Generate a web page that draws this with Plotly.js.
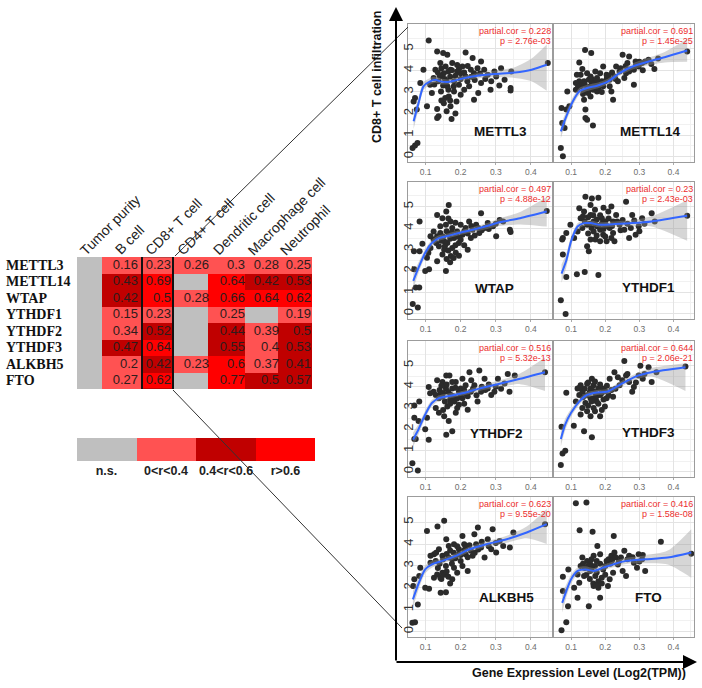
<!DOCTYPE html>
<html><head><meta charset="utf-8">
<script src="https://cdn.plot.ly/plotly-3.0.1.min.js"></script>
<style>html,body{margin:0;padding:0;background:#fff}#chart{width:702px;height:688px}</style>
</head><body><div id="chart"></div>
<script>
// ---------------- DATA ----------------
const genes = ['METTL3','METTL14','WTAP','YTHDF1','YTHDF2','YTHDF3','ALKBH5','FTO'];
const cellTypes = ['Tumor purity','B cell','CD8+ T cell','CD4+ T cell','Dendritic cell','Macrophage cell','Neutrophil'];
const corValues = [
 [null,0.16,0.23,0.26,0.3,0.28,0.25],
 [null,0.43,0.69,null,0.64,0.42,0.53],
 [null,0.42,0.5,0.28,0.66,0.64,0.62],
 [null,0.15,0.23,null,0.25,null,0.19],
 [null,0.34,0.52,null,0.44,0.39,0.5],
 [null,0.47,0.64,null,0.55,0.4,0.53],
 [null,0.2,0.42,0.23,0.6,0.37,0.41],
 [null,0.27,0.62,null,0.77,0.5,0.57]
];
// colour class as drawn: 0 n.s., 1 0<r<0.4, 2 0.4<r<0.6, 3 r>0.6
const corClass = [
 [0,1,1,1,1,1,1],
 [0,2,3,0,3,2,2],
 [0,2,3,1,3,3,3],
 [0,1,1,0,1,0,1],
 [0,1,2,0,2,1,2],
 [0,2,3,0,2,1,2],
 [0,1,2,1,3,1,2],
 [0,1,3,0,3,2,2]
];
const classLabels = ['n.s.','0<r<0.4','0.4<r<0.6','r>0.6'];
const classValues = [0,1,2,3];
const partialCor = ['0.228','0.691','0.497','0.23','0.516','0.644','0.623','0.416'];
const pValues = ['2.76e-03','1.45e-25','4.88e-12','2.43e-03','5.32e-13','2.06e-21','9.55e-20','1.58e-08'];
const xTicks = [0.1,0.2,0.3,0.4];
const yTicks = [0,1,2,3,4,5];

const mettl3Pts = [[0.109,5.39],[0.133,4.88],[0.150,4.80],[0.162,4.72],[0.214,4.83],[0.234,4.57],[0.258,4.41],[0.325,3.56],[0.342,3.18],[0.342,3.07],[0.448,4.34],[0.296,3.95],[0.301,3.72],[0.277,3.80],[0.267,4.03],[0.238,2.64],[0.224,3.26],[0.210,3.10],[0.195,3.33],[0.181,3.49],[0.094,4.03],[0.085,3.41],[0.070,2.72],[0.066,2.56],[0.075,2.18],[0.104,2.33],[0.133,2.21],[0.137,1.87],[0.133,1.79],[0.174,1.74],[0.152,2.48],[0.156,2.72],[0.166,2.79],[0.160,2.10],[0.118,2.95],[0.113,3.33],[0.123,3.64],[0.128,4.03],[0.142,4.34],[0.157,4.18],[0.171,4.03],[0.176,4.34],[0.190,3.95],[0.205,4.18],[0.229,4.03],[0.238,3.87],[0.248,4.10],[0.147,3.72],[0.137,3.49],[0.162,3.26],[0.181,3.02],[0.144,3.02],[0.171,2.33],[0.188,2.56],[0.200,2.87],[0.219,3.49],[0.258,3.41],[0.287,3.49],[0.315,4.10],[0.344,3.95],[0.063,0.40],[0.070,0.51],[0.077,0.63],[0.200,3.87],[0.214,3.72],[0.152,3.87],[0.135,3.9],[0.145,4.1],[0.155,3.6],[0.165,3.95],[0.17,3.7],[0.175,4.0],[0.185,3.75],[0.195,4.05],[0.2,3.6],[0.16,3.5],[0.15,3.3],[0.165,3.1],[0.18,3.25],[0.14,3.75],[0.125,3.35],[0.19,4.25],[0.21,3.9],[0.22,4.2],[0.23,3.7],[0.17,2.6],[0.185,2.0],[0.145,2.6],[0.24,3.55],[0.255,3.85],[0.27,3.6],[0.31,3.3],[0.285,3.1],[0.25,2.95]];
const mettl3FitX = [0.066,0.080,0.094,0.113,0.128,0.142,0.162,0.181,0.210,0.248,0.296,0.354,0.402,0.445];
const mettl3FitY = [1.64,2.48,3.26,3.49,3.56,3.49,3.46,3.52,3.64,3.75,3.83,3.90,4.03,4.26];
const mettl3Hi = [2.0,2.75,3.45,3.65,3.70,3.62,3.58,3.63,3.75,3.87,3.98,4.15,4.55,5.2];
const mettl3Lo = [1.28,2.2,3.07,3.33,3.42,3.36,3.34,3.41,3.53,3.63,3.68,3.65,3.5,3.05];

const mettl14Pts = [[0.070,0.40],[0.076,0.02],[0.141,4.95],[0.159,4.80],[0.124,4.37],[0.133,4.06],[0.128,3.80],[0.147,3.87],[0.152,3.56],[0.161,3.41],[0.176,3.64],[0.185,3.87],[0.190,3.49],[0.204,3.80],[0.213,3.56],[0.227,3.72],[0.242,3.95],[0.251,4.72],[0.270,4.64],[0.265,4.34],[0.284,4.03],[0.289,4.41],[0.308,4.34],[0.327,4.49],[0.344,4.06],[0.284,3.33],[0.223,2.64],[0.218,3.02],[0.089,3.02],[0.114,3.10],[0.072,2.25],[0.086,2.18],[0.095,2.33],[0.081,1.33],[0.074,1.56],[0.142,1.79],[0.147,1.71],[0.164,1.44],[0.142,2.18],[0.138,2.64],[0.157,2.79],[0.176,3.02],[0.138,3.02],[0.128,3.26],[0.147,3.18],[0.166,3.26],[0.180,3.18],[0.194,3.26],[0.138,3.49],[0.124,3.49],[0.157,3.72],[0.171,3.95],[0.194,4.18],[0.232,4.18],[0.261,3.87],[0.298,4.18],[0.317,4.41],[0.440,4.88],[0.114,3.41],[0.117,3.80],[0.213,3.26],[0.237,3.49],[0.256,3.64],[0.13,3.3],[0.14,3.35],[0.15,3.05],[0.155,3.25],[0.16,3.6],[0.17,3.4],[0.165,3.1],[0.18,3.45],[0.185,3.3],[0.2,3.5],[0.205,3.65],[0.22,3.9],[0.23,3.6],[0.245,4.1],[0.26,4.2],[0.275,4.05],[0.29,4.25],[0.3,4.4],[0.31,4.0],[0.15,2.95],[0.135,2.9],[0.12,3.2],[0.19,3.0],[0.175,3.55],[0.27,3.95],[0.335,4.3],[0.355,4.55],[0.21,3.75]];
const mettl14FitX = [0.070,0.086,0.105,0.124,0.147,0.176,0.209,0.242,0.280,0.327,0.374,0.440];
const mettl14FitY = [1.17,1.87,2.56,3.02,3.18,3.29,3.49,3.87,4.18,4.41,4.61,4.92];
const mettl14Hi = [1.5,2.1,2.75,3.18,3.32,3.42,3.62,4.0,4.32,4.58,4.85,5.45];
const mettl14Lo = [0.85,1.64,2.37,2.86,3.04,3.16,3.36,3.74,4.04,4.24,4.37,4.4];

const wtapPts = [[0.0635,0.45],[0.078,0.29],[0.072,1.22],[0.082,1.22],[0.068,2.07],[0.067,2.92],[0.083,2.92],[0.083,4.31],[0.091,3.26],[0.099,1.99],[0.110,2.07],[0.104,2.61],[0.108,2.84],[0.114,3.07],[0.123,3.46],[0.133,3.61],[0.142,3.77],[0.138,3.15],[0.133,2.45],[0.148,2.76],[0.153,2.99],[0.158,1.99],[0.166,5.08],[0.159,4.77],[0.133,4.61],[0.148,4.46],[0.158,4.15],[0.171,4.31],[0.176,4.0],[0.166,3.69],[0.181,3.53],[0.162,3.30],[0.176,3.07],[0.186,2.84],[0.172,2.69],[0.195,3.30],[0.205,3.69],[0.214,4.0],[0.224,4.31],[0.234,3.92],[0.229,3.53],[0.220,2.99],[0.244,4.15],[0.253,3.77],[0.258,4.69],[0.277,4.23],[0.268,4.0],[0.292,4.08],[0.301,3.61],[0.311,4.38],[0.321,4.31],[0.340,3.92],[0.342,3.81],[0.445,4.80],[0.123,3.84],[0.114,3.61],[0.190,3.84],[0.200,4.15],[0.153,3.38],[0.142,4.08],[0.15,3.6],[0.16,3.85],[0.17,3.5],[0.175,3.8],[0.185,3.2],[0.19,3.6],[0.2,3.45],[0.21,3.85],[0.155,3.15],[0.165,2.95],[0.18,2.6],[0.17,2.4],[0.145,3.4],[0.13,3.3],[0.22,3.75],[0.24,3.65],[0.25,4.0],[0.26,3.9],[0.28,3.95],[0.3,4.2],[0.185,4.25],[0.165,4.45],[0.21,3.2],[0.195,2.7],[0.23,4.1],[0.16,2.55]];
const wtapFitX = [0.065,0.080,0.099,0.118,0.138,0.166,0.195,0.234,0.272,0.311,0.369,0.445];
const wtapFitY = [1.53,2.15,2.84,3.30,3.53,3.64,3.77,3.92,4.08,4.27,4.46,4.77];
const wtapHi = [1.9,2.4,3.02,3.45,3.66,3.76,3.88,4.04,4.22,4.45,4.75,5.45];
const wtapLo = [1.16,1.9,2.66,3.15,3.40,3.52,3.66,3.80,3.94,4.09,4.17,4.07];

const ythdf1Pts = [[0.070,0.63],[0.084,-0.02],[0.086,1.71],[0.076,2.76],[0.076,3.53],[0.074,3.46],[0.086,3.77],[0.098,4.15],[0.117,1.84],[0.140,1.94],[0.180,1.81],[0.109,3.53],[0.119,3.84],[0.128,4.46],[0.124,4.92],[0.142,5.46],[0.161,5.38],[0.180,5.42],[0.157,5.08],[0.138,4.77],[0.157,4.61],[0.166,4.31],[0.176,4.08],[0.185,3.92],[0.194,3.69],[0.204,3.38],[0.218,3.53],[0.227,3.38],[0.213,4.0],[0.223,4.31],[0.218,5.0],[0.209,4.77],[0.232,4.61],[0.242,4.15],[0.256,3.92],[0.261,5.23],[0.279,4.61],[0.289,3.69],[0.298,4.08],[0.270,3.53],[0.308,4.46],[0.336,4.69],[0.345,4.31],[0.440,4.57],[0.152,2.92],[0.147,3.15],[0.157,3.46],[0.171,3.46],[0.185,3.38],[0.166,3.84],[0.147,4.15],[0.133,4.0],[0.190,4.46],[0.223,3.77],[0.251,4.38],[0.14,4.3],[0.15,4.5],[0.155,4.2],[0.16,4.0],[0.165,4.6],[0.17,4.2],[0.175,4.4],[0.18,4.1],[0.185,4.6],[0.19,4.2],[0.195,3.95],[0.2,4.3],[0.205,4.1],[0.21,4.45],[0.22,4.1],[0.235,4.3],[0.245,3.9],[0.265,4.2],[0.275,4.0],[0.285,4.35],[0.3,3.85],[0.315,4.2],[0.15,3.75],[0.175,3.65],[0.2,3.6],[0.135,4.55],[0.17,4.85],[0.195,4.95]];
const ythdf1FitX = [0.072,0.086,0.100,0.119,0.138,0.157,0.185,0.223,0.279,0.336,0.440];
const ythdf1FitY = [1.87,2.48,3.38,4.07,4.23,4.23,4.15,4.18,4.23,4.31,4.57];
const ythdf1Hi = [2.3,2.8,3.6,4.22,4.36,4.35,4.27,4.31,4.38,4.55,5.3];
const ythdf1Lo = [1.44,2.16,3.16,3.92,4.10,4.11,4.03,4.05,4.08,4.07,3.4];

const ythdf2Pts = [[0.0625,0.40],[0.078,0.06],[0.068,1.54],[0.072,1.54],[0.109,1.50],[0.068,2.54],[0.082,3.30],[0.068,3.12],[0.080,2.39],[0.099,2.0],[0.104,2.54],[0.109,3.99],[0.113,3.69],[0.123,3.76],[0.133,4.30],[0.148,4.22],[0.159,4.53],[0.168,4.53],[0.158,3.91],[0.143,3.69],[0.138,3.46],[0.129,3.0],[0.138,2.77],[0.153,2.61],[0.159,1.74],[0.176,1.90],[0.166,2.39],[0.186,2.77],[0.182,3.30],[0.172,3.61],[0.195,3.76],[0.195,3.15],[0.205,3.46],[0.214,4.07],[0.220,2.92],[0.229,3.76],[0.239,4.07],[0.225,4.68],[0.253,4.76],[0.268,4.37],[0.277,3.91],[0.287,3.61],[0.296,3.76],[0.306,4.37],[0.334,4.60],[0.339,3.76],[0.354,4.53],[0.440,4.68],[0.248,3.30],[0.258,3.76],[0.186,4.22],[0.205,4.37],[0.148,3.53],[0.129,3.61],[0.176,3.91],[0.200,3.91],[0.214,3.69],[0.162,3.07],[0.176,4.22],[0.14,3.85],[0.15,3.7],[0.155,3.3],[0.165,3.75],[0.17,3.4],[0.18,3.55],[0.185,3.95],[0.19,3.45],[0.2,3.6],[0.21,3.85],[0.22,3.55],[0.235,3.9],[0.245,3.6],[0.26,4.0],[0.27,3.85],[0.28,4.1],[0.3,4.0],[0.315,3.9],[0.16,4.1],[0.145,4.05],[0.17,3.2],[0.19,3.0],[0.15,2.9],[0.21,3.2],[0.23,4.3],[0.325,4.15]];
const ythdf2FitX = [0.0645,0.080,0.099,0.118,0.138,0.166,0.205,0.253,0.311,0.369,0.440];
const ythdf2FitY = [1.51,2.0,2.69,3.23,3.46,3.56,3.69,3.91,4.14,4.37,4.68];
const ythdf2Hi = [1.85,2.25,2.87,3.38,3.59,3.68,3.80,4.03,4.30,4.62,5.37];
const ythdf2Lo = [1.17,1.75,2.51,3.08,3.33,3.44,3.58,3.79,3.98,4.12,3.8];

const ythdf3Pts = [[0.070,0.32],[0.075,0.86],[0.083,0.98],[0.072,2.11],[0.108,2.16],[0.086,3.72],[0.138,1.90],[0.161,1.62],[0.114,3.30],[0.124,3.61],[0.128,4.07],[0.147,4.14],[0.161,4.37],[0.166,4.07],[0.180,3.91],[0.171,3.69],[0.157,3.46],[0.142,3.23],[0.133,3.0],[0.147,2.84],[0.157,2.61],[0.166,3.0],[0.175,3.30],[0.185,2.61],[0.199,3.07],[0.204,3.46],[0.218,3.84],[0.227,4.68],[0.237,4.45],[0.242,4.07],[0.256,5.21],[0.261,4.53],[0.270,4.22],[0.279,3.76],[0.284,3.99],[0.298,4.53],[0.303,4.98],[0.310,4.37],[0.327,4.91],[0.336,4.22],[0.350,4.68],[0.435,4.95],[0.119,3.91],[0.133,3.76],[0.185,3.61],[0.223,3.53],[0.157,3.91],[0.194,3.91],[0.213,4.37],[0.166,3.46],[0.128,2.69],[0.14,3.9],[0.145,3.6],[0.15,4.2],[0.155,3.75],[0.16,3.3],[0.165,3.8],[0.17,4.25],[0.175,3.55],[0.18,3.2],[0.19,3.7],[0.195,3.4],[0.2,3.8],[0.21,3.6],[0.15,3.1],[0.135,3.5],[0.17,2.85],[0.19,2.9],[0.23,3.9],[0.25,4.3],[0.265,4.6],[0.29,4.2],[0.315,4.6],[0.125,3.95],[0.185,4.1],[0.205,4.05]];
const ythdf3FitX = [0.070,0.083,0.100,0.124,0.147,0.176,0.204,0.232,0.261,0.298,0.336,0.435];
const ythdf3FitY = [1.54,2.23,2.77,3.30,3.61,3.73,3.76,3.99,4.25,4.53,4.68,4.91];
const ythdf3Hi = [1.9,2.5,2.95,3.45,3.74,3.85,3.88,4.12,4.38,4.68,4.88,5.1];
const ythdf3Lo = [1.18,1.96,2.59,3.15,3.48,3.61,3.64,3.86,4.12,4.38,4.48,3.8];

const alkbh5Pts = [[0.0625,0.40],[0.070,0.43],[0.078,1.24],[0.065,2.08],[0.068,2.39],[0.082,2.54],[0.085,2.92],[0.104,4.60],[0.134,4.80],[0.153,5.06],[0.099,2.0],[0.110,1.96],[0.143,1.77],[0.158,1.80],[0.124,2.46],[0.133,2.61],[0.142,2.46],[0.114,3.15],[0.124,3.53],[0.138,3.76],[0.148,3.46],[0.159,4.22],[0.166,3.91],[0.176,3.30],[0.181,2.92],[0.190,2.69],[0.176,2.39],[0.200,3.23],[0.195,3.76],[0.210,3.99],[0.214,3.53],[0.220,2.77],[0.229,3.69],[0.239,4.45],[0.249,4.76],[0.244,3.99],[0.258,3.84],[0.268,3.38],[0.277,4.22],[0.287,3.76],[0.291,4.68],[0.301,3.61],[0.311,4.14],[0.321,3.91],[0.340,3.84],[0.350,4.53],[0.440,4.91],[0.166,3.38],[0.158,3.0],[0.195,3.53],[0.205,4.37],[0.129,3.23],[0.181,3.99],[0.214,3.84],[0.234,3.46],[0.148,2.69],[0.114,3.46],[0.14,3.1],[0.15,3.3],[0.155,2.6],[0.16,3.55],[0.165,2.5],[0.17,3.7],[0.175,3.1],[0.18,3.6],[0.185,3.35],[0.19,3.9],[0.2,3.5],[0.205,3.0],[0.21,3.7],[0.22,3.4],[0.225,3.95],[0.24,3.6],[0.25,3.75],[0.26,4.1],[0.135,2.9],[0.145,2.4],[0.16,2.75],[0.17,2.2],[0.13,3.6],[0.28,3.9],[0.3,4.05]];
const alkbh5FitX = [0.064,0.081,0.099,0.118,0.148,0.186,0.225,0.273,0.331,0.388,0.445];
const alkbh5FitY = [1.47,2.23,2.84,3.07,3.23,3.46,3.76,3.99,4.22,4.53,4.91];
const alkbh5Hi = [1.85,2.5,3.02,3.22,3.36,3.58,3.88,4.12,4.38,4.8,5.6];
const alkbh5Lo = [1.09,1.96,2.66,2.92,3.10,3.34,3.64,3.86,4.06,4.26,4.0];

const ftoPts = [[0.072,0.06],[0.086,0.43],[0.091,1.16],[0.076,1.85],[0.076,2.51],[0.092,2.84],[0.114,5.87],[0.145,5.90],[0.125,4.63],[0.163,4.56],[0.177,3.91],[0.225,4.37],[0.363,4.10],[0.452,3.56],[0.119,1.54],[0.152,1.16],[0.185,1.54],[0.166,2.08],[0.180,2.0],[0.208,2.08],[0.124,2.23],[0.138,2.54],[0.156,2.77],[0.171,2.54],[0.128,3.0],[0.147,3.23],[0.166,3.46],[0.185,3.53],[0.204,3.23],[0.218,3.46],[0.227,3.61],[0.237,3.07],[0.251,2.77],[0.261,2.54],[0.256,3.69],[0.270,3.46],[0.284,3.15],[0.298,3.53],[0.308,3.30],[0.317,2.77],[0.133,3.38],[0.157,3.07],[0.194,2.84],[0.223,2.69],[0.190,2.46],[0.119,2.61],[0.175,3.23],[0.246,3.38],[0.293,2.92],[0.109,2.0],[0.213,2.39],[0.14,2.9],[0.145,2.6],[0.15,3.0],[0.155,2.4],[0.16,2.85],[0.165,2.2],[0.17,3.0],[0.175,2.7],[0.18,2.3],[0.185,3.1],[0.19,2.2],[0.2,3.0],[0.21,3.3],[0.215,3.1],[0.22,3.25],[0.23,3.4],[0.24,3.2],[0.135,3.1],[0.16,3.3],[0.175,2.1],[0.2,2.6],[0.265,3.3],[0.28,3.4],[0.3,3.2],[0.31,3.5]];
const ftoFitX = [0.074,0.086,0.100,0.119,0.142,0.166,0.194,0.223,0.261,0.317,0.383,0.452];
const ftoFitY = [1.31,1.85,2.39,2.77,2.84,2.77,2.92,3.07,3.23,3.30,3.38,3.61];
const ftoHi = [1.75,2.15,2.6,2.93,2.98,2.9,3.05,3.2,3.37,3.48,3.7,4.68];
const ftoLo = [0.87,1.55,2.18,2.61,2.70,2.64,2.79,2.94,3.09,3.12,3.06,2.46];

// ---------------- LAYOUT CONSTANTS ----------------
const FONT = 'Liberation Sans, Arial, sans-serif';
const SERIF = 'Liberation Serif, Times New Roman, serif';
const W = 702, H = 688;
const px = v => v / W;
const py = v => 1 - v / H;
const classColors = ['#bfbfbf','#ff5252','#c00000','#ff0000'];
const colEdges = [77,102,142,173,208,245,278,312];
const textRightX = [null,138,171,209,245,279,311];
const headerX = [74,109,139,171,207,242,274];
const legendEdges = [77,136,196,256,315];
const panelXDom = [[408,552],[554,694]];
const panelYDom = [[24,162],[182,319],[341,477],[497,637]];
const labelPos = [[0.313,1.16],[0.332,1.16],[0.296,1.16],[0.327,1.2],[0.302,1.79],[0.327,1.83],[0.331,1.56],[0.327,1.56]];
const esc = s => s.replace(/</g,'&lt;').replace(/>/g,'&gt;');

const stepScale = [];
classColors.forEach((c,i)=>{ stepScale.push([i/4,c]); stepScale.push([(i+1)/4,c]); });

const traces = [];
// heatmap
traces.push({type:'heatmap', x: colEdges, y: genes.map((g,i)=>i), z: corClass,
  zmin:-0.5, zmax:3.5, colorscale: stepScale, showscale:false, hoverinfo:'skip', xaxis:'x', yaxis:'y'});
const tx=[],ty=[],tt=[];
corValues.forEach((row,i)=>row.forEach((v,j)=>{ if(v!==null){ tx.push(textRightX[j]); ty.push(i); tt.push(String(v)); } }));
traces.push({type:'scatter', mode:'text', x:tx, y:ty, text:tt, textposition:'middle left',
  textfont:{family:FONT,size:13,color:'#2e1c1c'}, hoverinfo:'skip', xaxis:'x', yaxis:'y', cliponaxis:false});
// legend bar
traces.push({type:'heatmap', x: legendEdges, y:[0], z:[classValues], zmin:-0.5, zmax:3.5,
  colorscale: stepScale, showscale:false, hoverinfo:'skip', xaxis:'x10', yaxis:'y10'});

const panels = [
 {pts:mettl3Pts, fx:mettl3FitX, fy:mettl3FitY, lo:mettl3Lo, hi:mettl3Hi},
 {pts:mettl14Pts, fx:mettl14FitX, fy:mettl14FitY, lo:mettl14Lo, hi:mettl14Hi},
 {pts:wtapPts, fx:wtapFitX, fy:wtapFitY, lo:wtapLo, hi:wtapHi},
 {pts:ythdf1Pts, fx:ythdf1FitX, fy:ythdf1FitY, lo:ythdf1Lo, hi:ythdf1Hi},
 {pts:ythdf2Pts, fx:ythdf2FitX, fy:ythdf2FitY, lo:ythdf2Lo, hi:ythdf2Hi},
 {pts:ythdf3Pts, fx:ythdf3FitX, fy:ythdf3FitY, lo:ythdf3Lo, hi:ythdf3Hi},
 {pts:alkbh5Pts, fx:alkbh5FitX, fy:alkbh5FitY, lo:alkbh5Lo, hi:alkbh5Hi},
 {pts:ftoPts, fx:ftoFitX, fy:ftoFitY, lo:ftoLo, hi:ftoHi}
];

const layout = {
  width: W, height: H, margin:{l:0,r:0,t:0,b:0}, paper_bgcolor:'#fff', plot_bgcolor:'#fff',
  showlegend:false, font:{family:FONT, color:'#222'},
  xaxis:{domain:[px(colEdges[0]),px(colEdges[colEdges.length-1])], range:[colEdges[0],colEdges[colEdges.length-1]], visible:false, fixedrange:true},
  yaxis:{domain:[py(389),py(257)], range:[7.5,-0.5], visible:false, fixedrange:true},
  xaxis10:{domain:[px(legendEdges[0]),px(legendEdges[4])], range:[legendEdges[0],legendEdges[4]], anchor:'y10',
    tickmode:'array', tickvals: classValues.map(i=>(legendEdges[i]+legendEdges[i+1])/2), ticktext: classLabels.map(esc),
    tickfont:{family:FONT,size:12.5,color:'#222',weight:'bold'}, showgrid:false, zeroline:false, showline:false, ticks:'', fixedrange:true},
  yaxis10:{domain:[py(461),py(438)], range:[-0.5,0.5], visible:false, anchor:'x10', fixedrange:true},
  annotations:[], shapes:[]
};

panels.forEach((p,i)=>{
  const n=i+2, xa='x'+n, ya='y'+n, r=Math.floor(i/2), c=i%2;
  traces.push({type:'scatter',mode:'markers',x:p.pts.map(d=>d[0]),y:p.pts.map(d=>d[1]),
    marker:{size:6,color:'#2b2b2b'},xaxis:xa,yaxis:ya,hoverinfo:'skip'});
  traces.push({type:'scatter',mode:'lines',x:p.fx,y:p.lo,line:{width:0,color:'rgba(0,0,0,0)',shape:'spline',smoothing:0.7},xaxis:xa,yaxis:ya,hoverinfo:'skip'});
  traces.push({type:'scatter',mode:'lines',x:p.fx,y:p.hi,fill:'tonexty',fillcolor:'rgba(153,153,153,0.4)',
    line:{width:0,color:'rgba(0,0,0,0)',shape:'spline',smoothing:0.7},xaxis:xa,yaxis:ya,hoverinfo:'skip'});
  traces.push({type:'scatter',mode:'lines',x:p.fx,y:p.fy,line:{width:2,color:'#3366ff',shape:'spline',smoothing:0.7},xaxis:xa,yaxis:ya,hoverinfo:'skip'});

  layout['xaxis'+n] = {domain:[px(panelXDom[c][0]),px(panelXDom[c][1])], range:[0.05,0.46], anchor:ya,
    tickmode:'array', tickvals:xTicks, ticktext:xTicks.map(String), tickfont:{family:FONT,size:8.5,color:'#6e6e6e'},
    showgrid:true, gridcolor:'#e3e3e3', gridwidth:1,
    minor:{tick0:0.05, dtick:0.1, showgrid:true, gridcolor:'#f1f1f1', ticks:''},
    zeroline:false, showline:true, mirror:true, linecolor:'#9c9c9c', linewidth:1,
    ticks:'outside', ticklen:2, tickcolor:'#aaa', fixedrange:true};
  layout['yaxis'+n] = {domain:[py(panelYDom[r][1]),py(panelYDom[r][0])], range:[-0.25,6.15], anchor:xa,
    tickmode:'array', tickvals:yTicks, ticktext:yTicks.map(String), showticklabels:c===0, tickangle:-90,
    tickfont:{family:FONT,size:13,color:'#333'}, ticklabelstandoff:-11,
    showgrid:true, gridcolor:'#e3e3e3', gridwidth:1,
    minor:{tick0:0.5, dtick:1, showgrid:true, gridcolor:'#f1f1f1', ticks:''},
    zeroline:false, showline:true, mirror:true, linecolor:'#9c9c9c', linewidth:1, ticks:'', fixedrange:true};

  layout.annotations.push({xref:xa+' domain', yref:ya+' domain', x:1, y:1, xanchor:'right', yanchor:'top', yshift:-1,
    text:'partial.cor = '+partialCor[i], font:{family:FONT,size:9,color:'#ec2d2d'}, showarrow:false, borderpad:0});
  layout.annotations.push({xref:xa+' domain', yref:ya+' domain', x:1, y:1, xanchor:'right', yanchor:'top', yshift:-11,
    text:'p = '+pValues[i], font:{family:FONT,size:9,color:'#ec2d2d'}, showarrow:false, borderpad:0});
  layout.annotations.push({xref:xa, yref:ya, x:labelPos[i][0], y:labelPos[i][1], xanchor:'center', yanchor:'middle', text:'<b>'+genes[i]+'</b>',
    font:{family:FONT,size:13.5,color:'#111'}, showarrow:false});
});

// row labels
genes.forEach((g,i)=>layout.annotations.push({xref:'paper', yref:'y', x:px(4), y:i, xanchor:'left', yanchor:'middle',
  text:'<b>'+g+'</b>', font:{family:SERIF,size:14,color:'#111'}, showarrow:false}));
// column headers
cellTypes.forEach((t,j)=>layout.annotations.push({xref:'paper', yref:'paper', x:px(headerX[j]), y:py(261), xanchor:'left', yanchor:'bottom',
  textangle:-45, text:t, font:{family:FONT,size:14,color:'#222'}, showarrow:false}));
// big axes
layout.annotations.push({xref:'paper',yref:'paper',x:px(396),y:py(7),ax:0,ay:655,text:'',showarrow:true,arrowhead:2,arrowsize:1.4,arrowwidth:2,arrowcolor:'#000'});
layout.annotations.push({xref:'paper',yref:'paper',x:px(697),y:py(662),ax:-302,ay:0,text:'',showarrow:true,arrowhead:2,arrowsize:1.4,arrowwidth:2,arrowcolor:'#000'});
layout.annotations.push({xref:'paper',yref:'paper',x:px(377),y:py(77),xanchor:'center',yanchor:'middle',text:'<b>CD8+ T cell infiltration</b>',textangle:-90,
  font:{family:FONT,size:12.5,color:'#111'},showarrow:false});
layout.annotations.push({xref:'paper',yref:'paper',x:px(579),y:py(673),xanchor:'center',yanchor:'middle',text:'<b>Gene Expression Level (Log2(TPM))</b>',
  font:{family:FONT,size:12.5,color:'#111'},showarrow:false});

// shapes: CD8 box and connectors
layout.shapes.push({type:'rect', xref:'x', yref:'y', x0:colEdges[2], x1:colEdges[3], y0:-0.55, y1:7.55, line:{color:'#111',width:2}, fillcolor:'rgba(0,0,0,0)'});
layout.shapes.push({type:'line', xref:'paper', yref:'paper', x0:px(175), y0:py(256), x1:px(408), y1:py(27), line:{color:'#333',width:1}});
layout.shapes.push({type:'line', xref:'paper', yref:'paper', x0:px(173), y0:py(390), x1:px(402), y1:py(628), line:{color:'#333',width:1}});

Plotly.newPlot('chart', traces, layout, {staticPlot:true, displayModeBar:false});
</script>
</body></html>
